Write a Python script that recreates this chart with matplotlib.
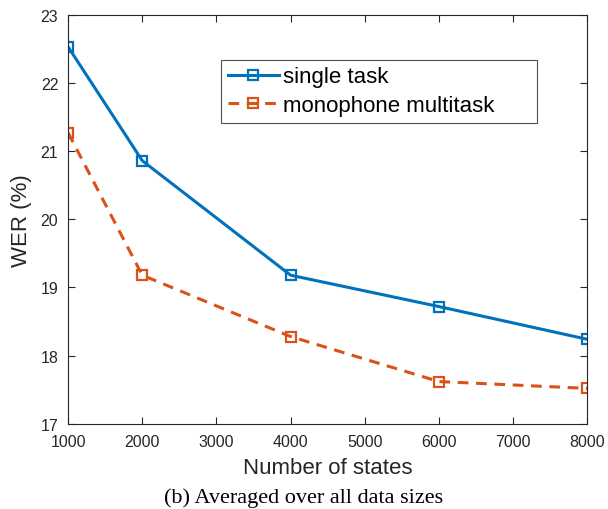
import matplotlib
matplotlib.use("Agg")
import matplotlib.pyplot as plt

# data
states = [1000, 2000, 4000, 6000, 8000]
wer_single = [22.53, 20.86, 19.18, 18.72, 18.24]
wer_multi = [21.27, 19.18, 18.28, 17.62, 17.52]
series_labels = ["single task", "monophone multitask"]
x_ticks = [1000, 2000, 3000, 4000, 5000, 6000, 7000, 8000]
y_ticks = [17, 18, 19, 20, 21, 22, 23]

plt.rcParams['font.family'] = ['Liberation Sans', 'DejaVu Sans']

fig = plt.figure(figsize=(6.08, 5.10), dpi=100)
ax = fig.add_axes([0.112, 0.167, 0.854, 0.802])

ax.plot(states, wer_single, color='#0072BD', lw=2.2, marker='s', ms=7,
        mfc='none', mew=1.6, label=series_labels[0])
ax.plot(states, wer_multi, color='#D95319', lw=2.2, ls=(0, (3.5, 2.5)), marker='s', ms=7,
        mfc='none', mew=1.6, label=series_labels[1])

ax.set_xlim(1000, 8000)
ax.set_ylim(17, 23)
ax.set_xticks(x_ticks)
ax.set_yticks(y_ticks)
ax.tick_params(direction='in', top=True, right=True, length=5, labelsize=11.5,
               colors='#262626', width=0.8, pad=7)
for sp in ax.spines.values():
    sp.set_color('#262626')
    sp.set_linewidth(0.8)

ax.set_xlabel('Number of states', fontsize=16, color='#262626', labelpad=6)
ax.set_ylabel('WER (%)', fontsize=16, color='#262626', labelpad=6)

# legend box stretched to the wide MATLAB-style frame
leg = ax.legend(loc='upper left', bbox_to_anchor=(0.295, 0.89, 0.609, 0.0),
                mode='expand', fontsize=16,
                frameon=True, fancybox=False, edgecolor='#262626',
                handlelength=2.3, handletextpad=0.2, borderpad=0.3,
                labelspacing=0.35, borderaxespad=0)
leg.get_frame().set_linewidth(0.8)

fig.text(0.5, 0.003, '(b) Averaged over all data sizes', ha='center', va='bottom',
         fontsize=16, family=['Liberation Serif', 'DejaVu Serif'])

fig.savefig('out.png', dpi=100)
